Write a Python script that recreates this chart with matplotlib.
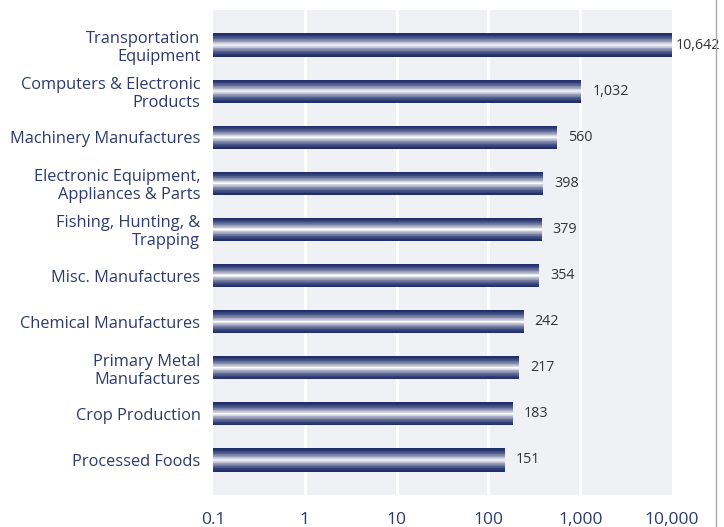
import numpy as np
import matplotlib
matplotlib.use("Agg")
import matplotlib.pyplot as plt
from matplotlib.colors import to_rgb
from matplotlib.ticker import FixedLocator, FixedFormatter

categories = [
    "Transportation\nEquipment",
    "Computers & Electronic\nProducts",
    "Machinery Manufactures",
    "Electronic Equipment,\nAppliances & Parts",
    "Fishing, Hunting, &\nTrapping",
    "Misc. Manufactures",
    "Chemical Manufactures",
    "Primary Metal\nManufactures",
    "Crop Production",
    "Processed Foods",
]
values = [10642, 1032, 560, 398, 379, 354, 242, 217, 183, 151]
tick_values = [0.1, 1, 10, 100, 1000, 10000]
tick_labels = ["0.1", "1", "10", "100", "1,000", "10,000"]

plt.rcParams['font.family'] = ['Open Sans', 'DejaVu Sans']

fig = plt.figure(figsize=(7.24, 5.27), dpi=100)
ax = fig.add_axes([213/724, 1-495/527, (672-213)/724, (495-10)/527])
ax.set_facecolor('#f0f1f4')
ax.set_xscale('log')
xmin, xmax = 0.1, 10000
ax.set_xlim(xmin, xmax)
ax.set_ylim(9.76, -0.76)

for x in [1, 10, 100, 1000]:
    ax.axvline(x, color='white', lw=2.2, zorder=1)

navy = np.array(to_rgb('#1e2d6a'))
white = np.array([1.0, 1.0, 1.0])
n = 31
bar_h = 0.5
ypos = np.arange(len(values))
edges = np.linspace(-bar_h/2, bar_h/2, n + 1)
for i in range(n):
    t = abs((edges[i] + edges[i+1]) / 2) / (bar_h/2)
    w = (1 - t) ** 1.6
    col = navy * (1 - w) + white * w
    ax.barh(ypos + (edges[i] + edges[i+1]) / 2, values, height=(bar_h / n) * 1.05,
            left=xmin, color=col, edgecolor='none', zorder=2)

for y, v in zip(ypos, values):
    off = 8 if v <= xmax else 3
    ax.annotate(f"{v:,}", xy=(min(v, xmax), y), xytext=(off, 0), textcoords='offset points',
                ha='left', va='center', fontsize=10.3, color='#333333',
                annotation_clip=False, zorder=3)

ax.set_yticks(ypos)
ax.set_yticklabels(categories, fontsize=11.8, color='#2c3b6b', ha='right',
                   linespacing=1.17)
ax.xaxis.set_major_locator(FixedLocator(tick_values))
ax.xaxis.set_major_formatter(FixedFormatter(tick_labels))
ax.xaxis.set_minor_locator(FixedLocator([]))
ax.tick_params(axis='x', labelsize=12.5, labelcolor='#2c3b6b', length=0, pad=12)
ax.tick_params(axis='y', length=0, pad=9)
for s in ax.spines.values():
    s.set_visible(False)

fig.add_artist(plt.Line2D([716/724, 716/724], [0, 1], color='#aaaaaa', lw=1))

fig.savefig('out.png', dpi=100, facecolor='white')
